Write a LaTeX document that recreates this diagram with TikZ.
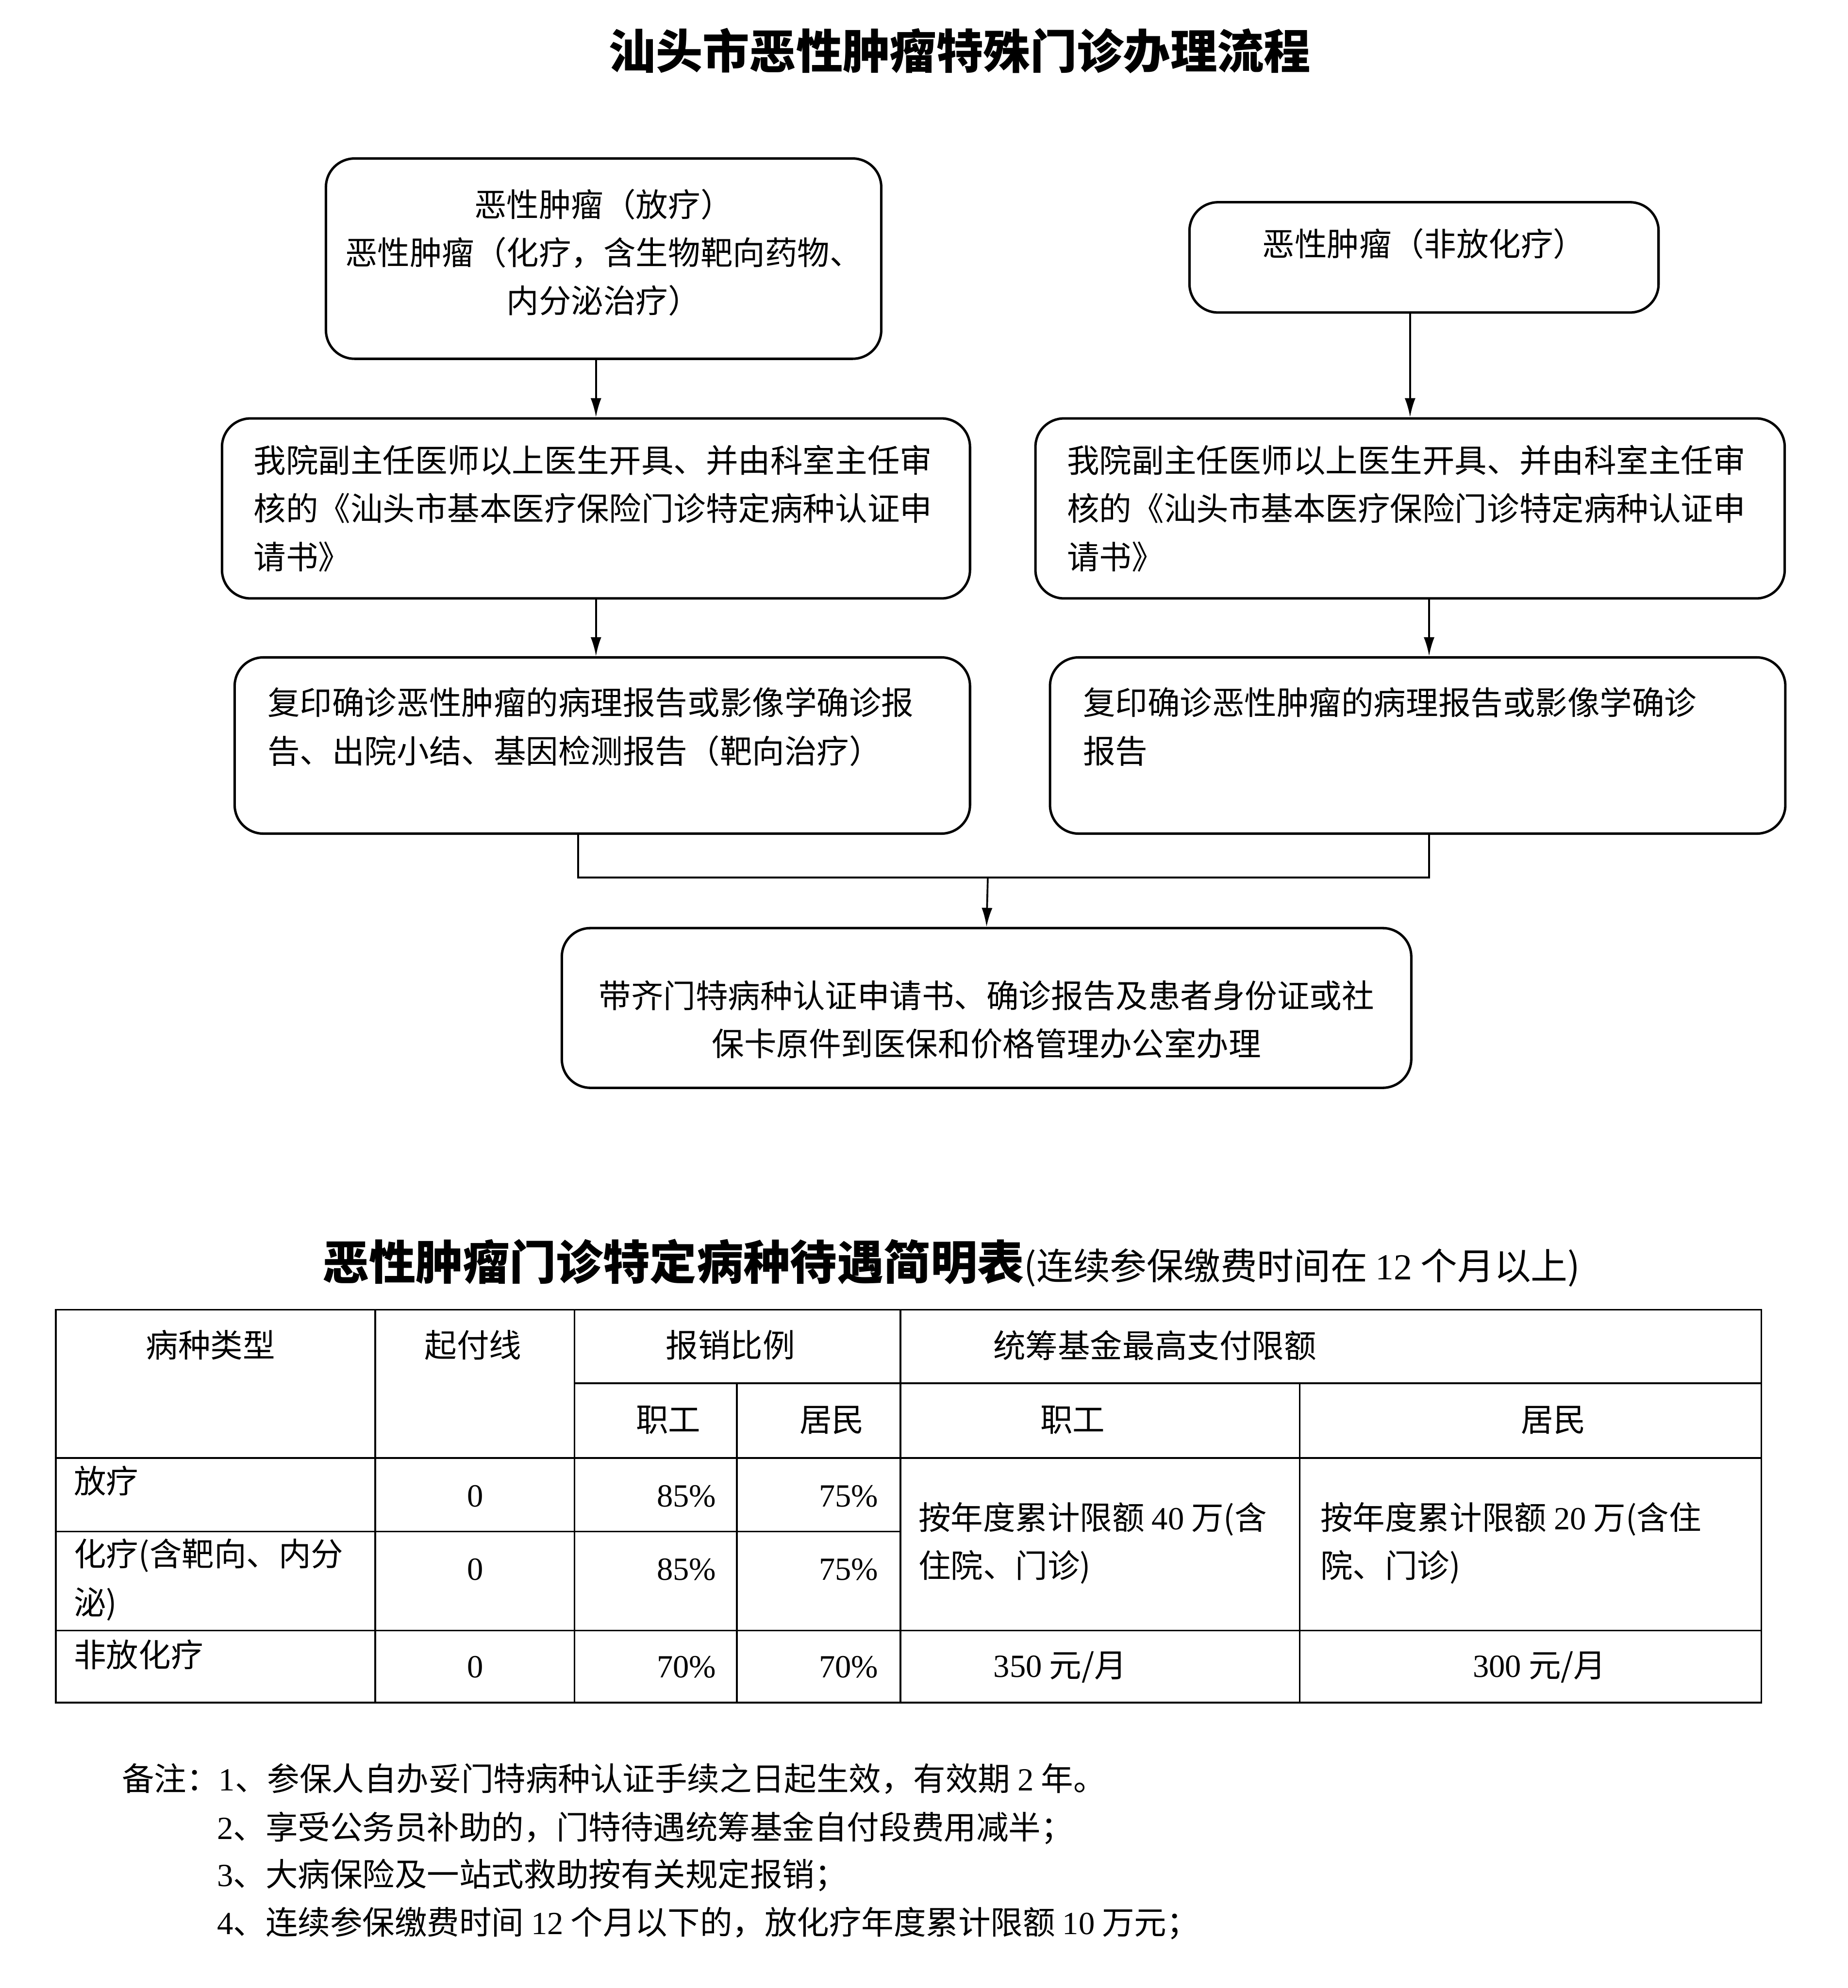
\documentclass[tikz,border=0pt]{standalone}
\usepackage{fontspec}
\setmainfont{Noto Sans CJK SC}
\newfontfamily\latin{Liberation Serif}
\usetikzlibrary{arrows.meta}
\newcommand\dg[1]{{\latin #1}}
\newcommand\bodyfs{\fontsize{14.5pt}{21.6pt}\selectfont}
\newcommand\headfs{\fontsize{21pt}{25pt}\selectfont\bfseries}
\newcommand\notefs{\fontsize{16.5pt}{20pt}\selectfont}
\tikzset{
  stepbox/.style={draw, line width=1.1pt, rounded corners=0.45cm, font=\bodyfs, inner xsep=0.5cm, inner ysep=0pt},
  leftbox/.style={stepbox, align=left},
  midbox/.style={stepbox, align=center},
  flow/.style={-{Latex[length=0.3cm, width=0.17cm]}, line width=0.8pt},
  rule/.style={line width=0.8pt},
  cell/.style={font=\bodyfs, inner sep=0pt, align=left},
}

\begin{document}
\begin{tikzpicture}[x=0.02cm, y=-0.02cm]
  \useasboundingbox (0,0) rectangle (1457,1568);
  % flow chart
  \node[font=\headfs] (title) at (757,40) {汕头市恶性肿瘤特殊门诊办理流程};
  \node[midbox, inner xsep=0.3cm, minimum width=8.76cm, minimum height=3.16cm] (b1) at (476,204) {恶性肿瘤（放疗）\\恶性肿瘤（化疗，含生物靶向药物、\\内分泌治疗）\\[-14.8pt]\mbox{}};
  \node[midbox, minimum width=7.4cm, minimum height=1.74cm] (r1) at (1123,203) {恶性肿瘤（非放化疗）\\[-8pt]\mbox{}};
  \node[leftbox, text width=10.8cm, minimum height=2.84cm] (l2) at (470,401) {我院副主任医师以上医生开具、并由科室主任审\\核的《汕头市基本医疗保险门诊特定病种认证申\\请书》};
  \node[leftbox, text width=10.82cm, minimum height=2.84cm] (r2) at (1112,401) {我院副主任医师以上医生开具、并由科室主任审\\核的《汕头市基本医疗保险门诊特定病种认证申\\请书》};
  \node[leftbox, text width=10.56cm, inner xsep=0.52cm, minimum height=2.78cm] (l3) at (475,588) {复印确诊恶性肿瘤的病理报告或影像学确诊报\\告、出院小结、基因检测报告（靶向治疗）\\[-3.4pt]\mbox{}};
  \node[leftbox, text width=10.56cm, inner xsep=0.52cm, minimum height=2.78cm] (r3) at (1118,588) {复印确诊恶性肿瘤的病理报告或影像学确诊\\报告\\[-3.4pt]\mbox{}};
  \node[midbox, minimum width=13.4cm, minimum height=2.52cm] (sub) at (778,795) {\mbox{}\\[1pt]带齐门特病种认证申请书、确诊报告及患者身份证或社\\保卡原件到医保和价格管理办公室办理};
  \coordinate (jl) at (456,692);
  \coordinate (jr) at (1127,692);
  \coordinate (join) at (779,692);
  \draw[flow] (b1.south -| l2.north) -- (l2.north);
  \draw[flow] (r1.south -| r2.north) -- (r2.north);
  \draw[flow] (l2.south) -- (l2.south |- l3.north);
  \draw[flow] (r2.south -| jr) -- (r3.north -| jr);
  \draw[rule] (l3.south -| jl) -- (jl) -- (jr) -- (r3.south -| jr);
  \draw[flow] (join) -- (sub.north);

  % table
  \node[font=\notefs, anchor=west] (tabtitle) at (248,996) {{\headfs 恶性肿瘤门诊特定病种待遇简明表}(连续参保缴费时间在 \dg{12} 个月以上)};
  \draw[rule] (44,1033) rectangle (1389,1343);
  \foreach \xa/\ya/\xb/\yb in {453/1091/1389/1091, 44/1150/1389/1150, 44/1208/710/1208, 44/1286/1389/1286,
    296/1033/296/1343, 453/1033/453/1343, 581/1091/581/1343, 710/1033/710/1343, 1025/1091/1025/1343}
    \draw[rule] (\xa,\ya) -- (\xb,\yb);
  \node[cell] (h-type) at (166,1061) {病种类型};
  \node[cell] (h-line) at (373,1061) {起付线};
  \node[cell] (h-rate) at (576,1061) {报销比例};
  \node[cell, anchor=west] (h-fund) at (783,1061) {统筹基金最高支付限额};
  \node[cell] (h-rate-w) at (527,1120) {职工};
  \node[cell] (h-rate-r) at (656,1120) {居民};
  \node[cell] (h-fund-w) at (846,1120) {职工};
  \node[cell] (h-fund-r) at (1225,1120) {居民};
  % rows
  \node[cell, anchor=west] (t1) at (58,1168) {放疗};
  \node[cell, anchor=west] (t2) at (58,1246) {化疗(含靶向、内分\\泌)};
  \node[cell, anchor=west] (t3) at (58,1305) {非放化疗};
  \foreach \y/\w/\r [count=\i] in {1180/85/75, 1238/85/75, 1315/70/70} {
    \node[cell] (z\i) at (375,\y) {\dg{0}};
    \node[cell, anchor=east] (w\i) at (565,\y) {\dg{\w\%}};
    \node[cell, anchor=east] (r\i) at (693,\y) {\dg{\r\%}};
  }
  \node[cell, anchor=west] (lim-w) at (724,1217) {按年度累计限额 \dg{40} 万(含\\住院、门诊)};
  \node[cell, anchor=west] (lim-r) at (1041,1217) {按年度累计限额 \dg{20} 万(含住\\院、门诊)};
  \node[cell] (mon-w) at (836,1315) {\dg{350} 元/月};
  \node[cell] (mon-r) at (1214,1315) {\dg{300} 元/月};

  % notes
  \node[font=\bodyfs, anchor=west] (note1) at (90,1403) {备注：\dg{1}、参保人自办妥门特病种认证手续之日起生效，有效期 \dg{2} 年。};
  \node[font=\bodyfs, anchor=west] (note2) at (165,1442) {\dg{2}、享受公务员补助的，门特待遇统筹基金自付段费用减半；};
  \node[font=\bodyfs, anchor=west] (note3) at (165,1479) {\dg{3}、大病保险及一站式救助按有关规定报销；};
  \node[font=\bodyfs, anchor=west] (note4) at (165,1517) {\dg{4}、连续参保缴费时间 \dg{12} 个月以下的，放化疗年度累计限额 \dg{10} 万元；};
\end{tikzpicture}
\end{document}
